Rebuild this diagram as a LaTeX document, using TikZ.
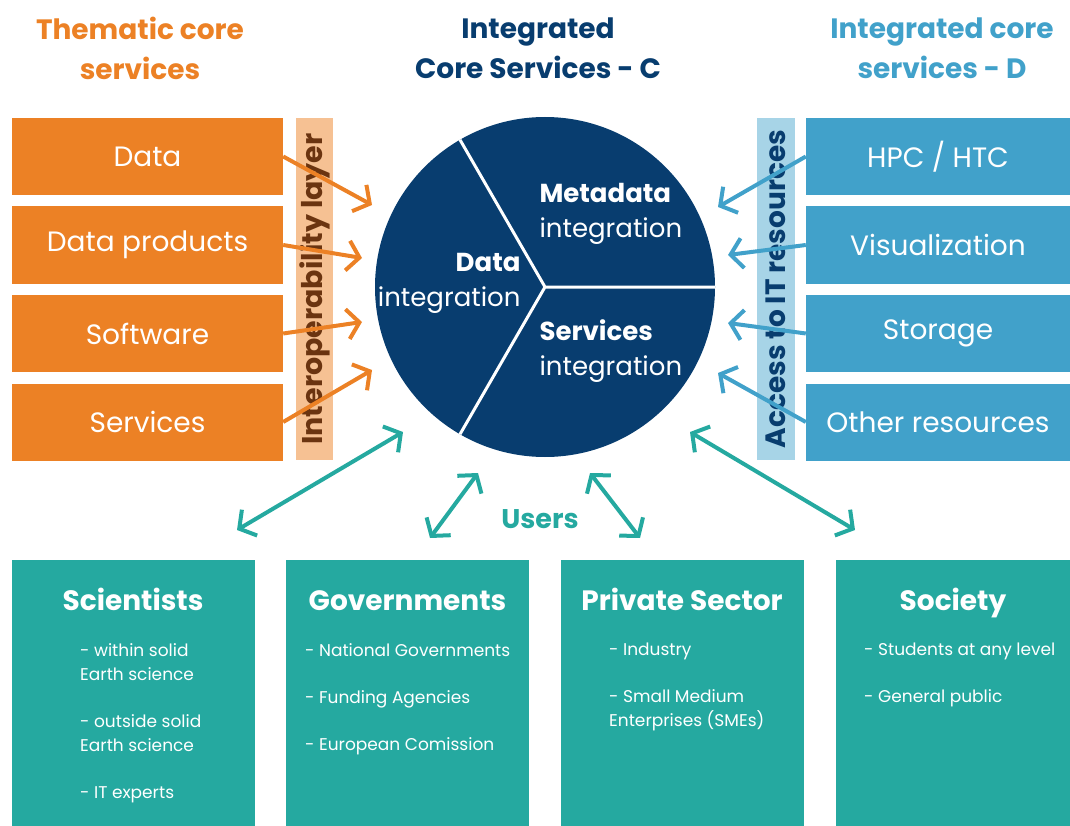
\documentclass[tikz,border=0pt]{standalone}
\usepackage{fontspec}
\setmainfont{Poppins}
\usetikzlibrary{arrows.meta}
\definecolor{thematic}{HTML}{EC8125}
\definecolor{interop}{HTML}{F6C193}
\definecolor{interoptext}{HTML}{6B3410}
\definecolor{corenavy}{HTML}{083D6F}
\definecolor{itres}{HTML}{41A1CA}
\definecolor{access}{HTML}{A7D4E7}
\definecolor{users}{HTML}{25A9A0}

\begin{document}
\begin{tikzpicture}[x=1pt, y=-1pt, font=\fontsize{28}{30}\selectfont,
		tbox/.style={fill=thematic, text=white, minimum width=271pt, minimum height=77pt, inner sep=0pt},
		dbox/.style={fill=itres, text=white, minimum width=264pt, minimum height=77pt, inner sep=0pt},
		strip/.style={minimum width=37pt, minimum height=342pt, inner sep=0pt},
		ubox/.style={fill=users, minimum width=243pt, minimum height=266pt, inner sep=0pt},
		hdr/.style={font=\fontsize{28}{40}\selectfont\bfseries, align=center},
		utitle/.style={text=white, anchor=base, font=\fontsize{28}{30}\selectfont\bfseries},
		uitems/.style={text=white, anchor=north west, align=left, inner sep=0pt, font=\fontsize{17}{24}\selectfont},
		inflow/.style={line width=4pt, -{Straight Barb[length=12pt,width=30pt]}},
		twoway/.style={line width=4pt, {Straight Barb[length=12pt,width=30pt]}-{Straight Barb[length=12pt,width=30pt]}}]
	\useasboundingbox (0,0) rectangle (1070,826);
	% headings
	\node[hdr, text=thematic] (thhead) at (140,48) {Thematic core\\services};
	\node[hdr, text=corenavy] (ichead) at (538,48) {Integrated\\Core Services - C};
	\node[hdr, text=itres] (idhead) at (942,48) {Integrated core\\services - D};
	% thematic side
	\node[strip, fill=interop] (interop) at (314.5,289) {};
	\node[rotate=90, text=interoptext, font=\fontsize{28.5}{30}\selectfont\bfseries] at (interop) {Interoperability layer};
	\node[tbox] (data) at (147.5,156.5) {Data};
	\node[tbox] (dprod) at (147.5,245) {Data products};
	\node[tbox] (soft) at (147.5,333.5) {Software};
	\node[tbox] (serv) at (147.5,422) {Services};
	% IT resources side
	\node[strip, fill=access, minimum width=38pt] (access) at (776,289) {};
	\node[rotate=90, text=corenavy, font=\fontsize{28}{30}\selectfont\bfseries] at (access) {Access to IT resources};
	\node[dbox] (hpc) at (938,156.5) {HPC / HTC};
	\node[dbox] (vis) at (938,245) {Visualization};
	\node[dbox] (stor) at (938,333.5) {Storage};
	\node[dbox] (other) at (938,422) {Other resources};
	% integrated core
	\node[circle, fill=corenavy, minimum size=340pt, inner sep=0pt, outer sep=0pt] (core) at (545,287) {};
	\draw[white, line width=3pt] (core.center) -- (core.east)
		(core.center) -- (core.120)
		(core.center) -- (core.240);
	\begin{scope}[every node/.style={text=white, font=\fontsize{26}{35}\selectfont}]
		\node[anchor=west, align=left] (meta) at (536,214) {\textbf{Metadata}\\integration};
		\node[anchor=east, align=right] (dint) at (524,283) {\textbf{Data}\\integration};
		\node[anchor=west, align=left] (sint) at (536,351) {\textbf{Services}\\integration};
	\end{scope}
	% arrows into the core
	\coordinate (toData) at (372,205);
	\coordinate (toProd) at (362,258);
	\coordinate (toSoft) at (362,322);
	\coordinate (toServ) at (372,370);
	\draw[inflow, thematic] (data.east) -- (toData);
	\draw[inflow, thematic] (dprod.east) -- (toProd);
	\draw[inflow, thematic] (soft.east) -- (toSoft);
	\draw[inflow, thematic] (serv.east) -- (toServ);
	\coordinate (fromHpc) at (718,207);
	\coordinate (fromVis) at (728,255);
	\coordinate (fromStor) at (728,323);
	\coordinate (fromOther) at (718,373);
	\draw[inflow, itres] (hpc.west) -- (fromHpc);
	\draw[inflow, itres] (vis.west) -- (fromVis);
	\draw[inflow, itres] (stor.west) -- (fromStor);
	\draw[inflow, itres] (other.west) -- (fromOther);
	% users
	\node[ubox] (sci) at (133,693) {};
	\node[ubox] (gov) at (407.5,693) {};
	\node[ubox] (priv) at (682,693) {};
	\node[ubox, minimum width=234pt] (soc) at (953,693) {};
	\node[utitle] at (133,610) {Scientists};
	\node[utitle] at (407.5,610) {Governments};
	\node[utitle] at (682,610) {Private Sector};
	\node[utitle] at (953,610) {Society};
	\node[uitems] (sciitems) at (80,643) {- within solid\\Earth science\\[23pt]- outside solid\\Earth science\\[23pt]- IT experts};
	\node[uitems] (govitems) at (305,643) {- National Governments\\[23pt]- Funding Agencies\\[23pt]- European Comission};
	\node[uitems] (privitems) at (609,643) {- Industry\\[23pt]- Small Medium\\Enterprises (SMEs)};
	\node[uitems] (socitems) at (864,643) {- Students at any level\\[23pt]- General public};
	\node[text=users, font=\fontsize{27}{30}\selectfont\bfseries] (users) at (540,519) {Users};
	\coordinate (u1a) at (237,530);
	\coordinate (u1b) at (403,432);
	\coordinate (u2a) at (430,538);
	\coordinate (u2b) at (478,473);
	\coordinate (u3a) at (590,473);
	\coordinate (u3b) at (640,538);
	\coordinate (u4a) at (690,432);
	\coordinate (u4b) at (855,530);
	\draw[twoway, users] (u1a) -- (u1b);
	\draw[twoway, users] (u2a) -- (u2b);
	\draw[twoway, users] (u3a) -- (u3b);
	\draw[twoway, users] (u4a) -- (u4b);
\end{tikzpicture}
\end{document}
